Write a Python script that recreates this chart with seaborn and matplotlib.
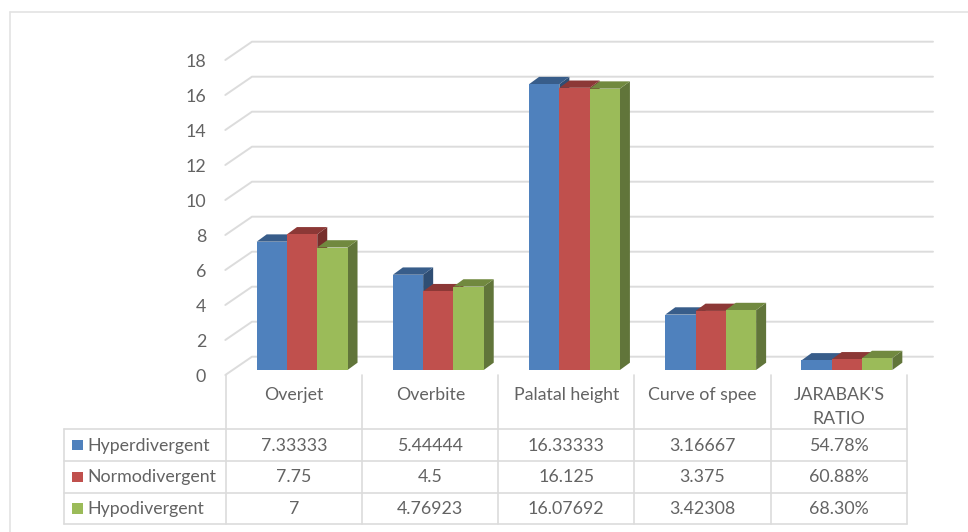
import matplotlib
matplotlib.use("Agg")
import matplotlib.pyplot as plt
from matplotlib.patches import Polygon, Rectangle
from matplotlib.transforms import ScaledTranslation
import pandas as pd
import seaborn as sns

W, H, DPI = 968, 532, 100

categories = ["Overjet", "Overbite", "Palatal height", "Curve of spee", "JARABAK'S\nRATIO"]
series_names = ["Hyperdivergent", "Normodivergent", "Hypodivergent"]
hyperdivergent = [7.33333, 5.44444, 16.33333, 3.16667, 0.5478]
normodivergent = [7.75, 4.5, 16.125, 3.375, 0.6088]
hypodivergent = [7, 4.76923, 16.07692, 3.42308, 0.683]
y_ticks = list(range(0, 20, 2))

front_colors = ["#4F81BD", "#C0504D", "#9BBB59"]
top_colors = ["#385D8A", "#8C3836", "#71893F"]
side_colors = ["#2F4E74", "#772E2C", "#61753A"]
TEXT = "#636363"
GRID = "#DCDCDC"
BORDER = "#E3E3E3"

sns.set_theme(style="white")
plt.rcParams["font.family"] = ["Lato", "DejaVu Sans"]
FS = 12.8

values = {"Hyperdivergent": hyperdivergent, "Normodivergent": normodivergent, "Hypodivergent": hypodivergent}
df = pd.DataFrame(values, index=categories).rename_axis("category").reset_index()
long_df = df.melt(id_vars="category", var_name="group", value_name="value")

fig = plt.figure(figsize=(W / DPI, H / DPI), dpi=DPI)

# Pixel geometry of the chart: the bars stand on a plane inside the floor.
COL_W = 136.2
PX_PER_UNIT = 17.5
AX_LEFT, AX_BASE = 234.0, 370.0
ax = fig.add_axes([AX_LEFT / W, (H - AX_BASE) / H, 5 * COL_W / W, 18 * PX_PER_UNIT / H])

sns.barplot(
    data=long_df, x="category", y="value", hue="group", order=categories, hue_order=series_names,
    palette=front_colors, width=0.667, gap=0, saturation=1, legend=False, ax=ax, zorder=3,
)
ax.set_xlim(-0.5, 4.5)
ax.set_ylim(0, 18)
ax.set_xlabel("")
ax.set_ylabel("")
sns.despine(ax=ax, left=True, bottom=True)


def data_dx(px):
    return px / COL_W


def data_dy(px):
    return px / PX_PER_UNIT


# Back wall and left wall gridlines, shifted out of the bar plane.
back_x, back_y = data_dx(18), data_dy(13.3)
front_x, front_y = data_dx(-8.7), data_dy(-5)
for v in y_ticks:
    ax.plot([-0.5 + front_x, -0.5 + back_x, 4.5 + back_x], [v + front_y, v + back_y, v + back_y],
            color=GRID, lw=1.4, clip_on=False, zorder=1, solid_joinstyle="miter")

# Extrude every bar: side and top faces are built from the bar's own rectangle.
depth_x, depth_y = data_dx(10), data_dy(7.3)
bars = [p for p in ax.patches if p.get_height() > 0]
bars.sort(key=lambda p: p.get_x())
for i, bar in enumerate(bars):
    series = i % 3
    x0, x1, h = bar.get_x(), bar.get_x() + bar.get_width(), bar.get_height()
    z = 3 + i
    bar.set_zorder(z + 0.5)
    bar.set_linewidth(0)
    ax.add_patch(Polygon([(x1, 0), (x1 + depth_x, depth_y), (x1 + depth_x, h + depth_y), (x1, h)],
                         closed=True, facecolor=side_colors[series], lw=0, zorder=z, clip_on=False))
    ax.add_patch(Polygon([(x0, h), (x1, h), (x1 + depth_x, h + depth_y), (x0 + depth_x, h + depth_y)],
                         closed=True, facecolor=top_colors[series], lw=0, zorder=z, clip_on=False))

# Axis labels sit on the front edge of the left wall and in the header row of the table.
ax.set_yticks(y_ticks)
ax.set_yticklabels([str(v) for v in y_ticks], fontsize=FS, color=TEXT)
ax.tick_params(axis="y", length=0, pad=20)
ax.set_xticks(range(5))
ax.set_xticklabels(categories, fontsize=FS, color=TEXT, linespacing=1.6)
ax.tick_params(axis="x", length=0, pad=12.5)
y_shift = ScaledTranslation(0, -5.5 / DPI, fig.dpi_scale_trans)
x_shift = ScaledTranslation(-8 / DPI, 0, fig.dpi_scale_trans)
for lab in ax.get_yticklabels():
    lab.set_transform(lab.get_transform() + y_shift)
for lab in ax.get_xticklabels():
    lab.set_transform(lab.get_transform() + x_shift)

# Data table and chart frame on a full-figure overlay measured in pixels.
ov = fig.add_axes([0, 0, 1, 1], zorder=-1)
ov.set_xlim(0, W)
ov.set_ylim(H, 0)
ov.axis("off")
ax.patch.set_alpha(0)

ov.plot([9.5, 9.5], [H, 11.5], color=BORDER, lw=1.2)
ov.plot([9.5, W], [11.5, 11.5], color=BORDER, lw=1.2)

TBL_L, TBL_C = 64.0, 225.7
row_y = [429.3, 461.0, 492.7, 524.3]
col_x = [TBL_C + k * COL_W for k in range(6)]
for y in row_y:
    ov.plot([TBL_L, col_x[-1]], [y, y], color=GRID, lw=1.2)
ov.plot([TBL_L, TBL_L], [row_y[0], row_y[-1]], color=GRID, lw=1.2)
for x in col_x:
    ov.plot([x, x], [375, row_y[-1]], color=GRID, lw=1.2)


def cell_text(v):
    return f"{v:.2%}" if v < 1 else str(v)


for r, name in enumerate(series_names):
    mid = (row_y[r] + row_y[r + 1]) / 2
    ov.add_patch(Rectangle((72.3, mid - 5.3), 10.4, 10.6, facecolor=front_colors[r], lw=0))
    ov.text(87.5, mid - 1, name, fontsize=FS, color=TEXT, ha="left", va="center_baseline")
    for c, v in enumerate(values[name]):
        ov.text((col_x[c] + col_x[c + 1]) / 2, mid - 1, cell_text(v), fontsize=FS, color=TEXT,
                ha="center", va="center_baseline")

fig.savefig("out.png", dpi=DPI, facecolor="white")
